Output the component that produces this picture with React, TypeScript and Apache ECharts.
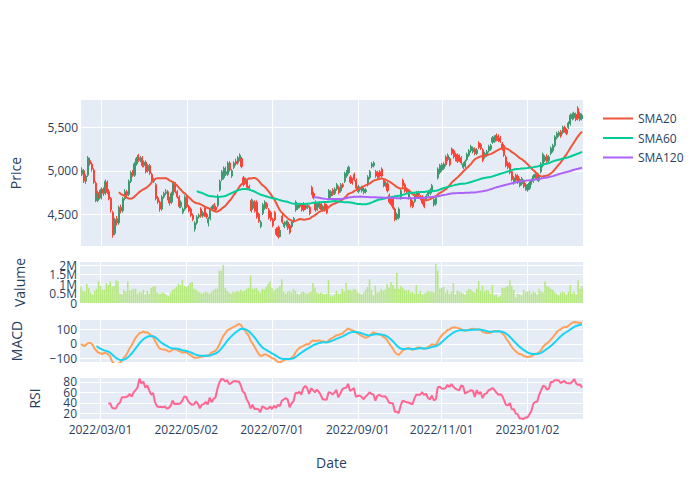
import React, { useEffect, useRef } from "react";
import * as echarts from "echarts";

// ---------- data ----------
const START_DATE = "2022-02-15"; // first trading day (weekends skipped)

const OPEN = [
  4960,5000,4880,4950,5120,5080,5010,4860,4660,4750,
  4690,4790,4740,4870,4760,4680,4520,4280,4450,4400,
  4580,4540,4680,4760,4730,4880,4980,4950,5080,5180,
  5120,5150,5060,5100,5000,5060,4960,4880,4840,4690,
  4640,4560,4700,4740,4760,4680,4640,4740,4850,4760,
  4700,4590,4520,4560,4690,4590,4560,4490,4330,4400,
  4470,4560,4480,4580,4500,4400,4450,4560,4610,4580,
  4600,4780,4900,4920,4960,4960,5090,4940,5040,5110,
  5090,5130,5140,4920,4870,4890,4820,4660,4570,4640,
  4640,4500,4360,4510,4570,4620,4550,4520,4440,4520,
  4330,4350,4260,4480,4360,4380,4410,4370,4360,4420,
  4550,4570,4610,4610,4620,4570,4600,4580,4810,4740,
  4640,4560,4580,4620,4560,4620,4600,4680,4710,4780,
  4740,4790,4810,4770,4840,4880,4940,4980,4930,4900,
  4960,4890,4760,4780,4770,4750,4760,4840,4920,5050,
  5060,4990,4980,4990,5020,4890,4830,4850,4720,4690,
  4680,4560,4450,4460,4690,4890,4840,4790,4690,4680,
  4640,4650,4720,4750,4700,4700,4660,4670,4720,4740,
  4760,4610,4620,4920,4980,5010,5030,5160,5130,5140,
  5250,5230,5190,5180,5170,5150,5040,5050,5130,5180,
  5230,5220,5250,5200,5320,5300,5240,5160,5180,5230,
  5250,5330,5340,5410,5400,5380,5310,5290,5160,5090,
  5080,4990,4860,4950,4940,4830,4850,4880,4790,4780,
  4800,4860,4880,4920,4960,4890,4990,5060,5120,5170,
  5120,5200,5230,5290,5380,5410,5450,5440,5500,5470,
  5500,5540,5600,5610,5650,5720,5590,5600,
];

const HIGH = [
  5040,5020,4960,5170,5150,5100,5030,4880,4770,4780,
  4810,4810,4900,4890,4790,4700,4540,4460,4480,4600,
  4610,4700,4790,4780,4900,5000,5010,5100,5160,5195,
  5170,5170,5120,5120,5080,5080,4980,4920,4860,4710,
  4660,4720,4760,4790,4780,4700,4760,4880,4870,4780,
  4720,4660,4580,4720,4710,4610,4580,4510,4420,4490,
  4510,4580,4540,4600,4520,4470,4580,4610,4630,4600,
  4730,4900,5010,5050,5050,5110,5110,5020,5110,5140,
  5170,5200,5160,4940,4920,4910,4840,4680,4670,4660,
  4660,4520,4430,4630,4660,4640,4570,4540,4460,4540,
  4350,4370,4320,4500,4420,4430,4430,4390,4440,4470,
  4660,4630,4630,4630,4640,4620,4620,4600,4830,4760,
  4660,4640,4650,4640,4610,4640,4620,4790,4780,4800,
  4810,4860,4830,4860,4860,4990,5010,5060,4950,4920,
  4980,4910,4840,4820,4830,4810,4800,4950,5010,5100,
  5110,5010,5000,5010,5040,4910,4880,4870,4740,4710,
  4700,4580,4520,4580,4790,4910,4860,4810,4770,4700,
  4660,4750,4770,4770,4720,4720,4680,4730,4780,4800,
  4850,4690,4710,5040,5080,5090,5100,5180,5200,5160,
  5270,5250,5210,5200,5190,5170,5100,5130,5210,5250,
  5300,5280,5270,5260,5340,5320,5260,5220,5240,5300,
  5310,5400,5410,5430,5420,5400,5330,5310,5180,5110,
  5100,5010,4940,4970,4960,4920,4930,4900,4860,4850,
  4880,4910,4960,4980,4980,4970,5100,5210,5180,5190,
  5180,5280,5310,5410,5450,5460,5470,5520,5520,5490,
  5570,5660,5670,5680,5670,5745,5680,5660,
];

const LOW = [
  4940,4860,4850,4930,5060,4990,4850,4640,4640,4670,
  4670,4710,4720,4730,4660,4520,4230,4260,4370,4380,
  4510,4520,4660,4700,4710,4860,4930,4930,5060,5100,
  5100,5040,5040,4970,4980,4950,4860,4860,4660,4620,
  4530,4540,4680,4720,4660,4600,4620,4720,4740,4680,
  4570,4570,4500,4540,4570,4520,4470,4420,4300,4380,
  4450,4460,4460,4470,4450,4360,4430,4540,4540,4530,
  4580,4760,4880,4900,4940,4940,4990,4920,5020,5060,
  5070,5110,5030,4820,4850,4790,4780,4520,4550,4520,
  4450,4400,4340,4490,4550,4560,4440,4420,4350,4420,
  4250,4220,4240,4390,4340,4360,4320,4270,4340,4400,
  4530,4550,4570,4530,4530,4550,4560,4490,4720,4670,
  4530,4540,4560,4530,4540,4530,4500,4660,4690,4710,
  4720,4770,4730,4750,4800,4860,4920,4960,4850,4840,
  4880,4780,4740,4760,4750,4730,4740,4820,4900,5030,
  5040,4920,4900,4920,4920,4810,4810,4750,4620,4590,
  4550,4420,4430,4440,4670,4810,4750,4740,4670,4580,
  4570,4630,4700,4700,4660,4610,4570,4650,4700,4720,
  4740,4590,4600,4900,4960,4990,5010,5050,5110,5050,
  5180,5140,5110,5090,5100,5070,5020,5030,5110,5160,
  5210,5200,5180,5180,5250,5240,5100,5140,5160,5210,
  5230,5310,5320,5340,5330,5320,5230,5160,5040,5020,
  4960,4880,4840,4870,4850,4810,4830,4800,4770,4760,
  4780,4840,4860,4900,4880,4870,4970,5040,5100,5090,
  5100,5180,5210,5270,5360,5390,5380,5420,5440,5410,
  5480,5520,5580,5590,5570,5580,5570,5580,
];

const CLOSE = [
  5010,4880,4940,5150,5080,5020,4870,4660,4740,4690,
  4790,4740,4880,4750,4680,4550,4260,4440,4400,4580,
  4540,4680,4760,4720,4880,4980,4950,5080,5140,5120,
  5150,5060,5100,4990,5060,4970,4880,4900,4680,4640,
  4560,4700,4740,4760,4680,4630,4740,4860,4760,4700,
  4590,4640,4560,4700,4590,4540,4490,4440,4400,4470,
  4490,4480,4520,4490,4470,4450,4560,4590,4560,4550,
  4710,4880,4990,5030,4990,5090,5010,5000,5090,5080,
  5150,5180,5050,4840,4900,4810,4800,4540,4650,4540,
  4470,4420,4410,4610,4640,4580,4460,4440,4370,4440,
  4270,4240,4300,4410,4400,4410,4340,4290,4420,4450,
  4640,4610,4590,4550,4550,4600,4580,4510,4740,4690,
  4550,4620,4630,4550,4590,4550,4520,4770,4760,4730,
  4790,4840,4750,4840,4820,4970,4990,5040,4870,4860,
  4900,4800,4820,4800,4810,4790,4780,4930,4990,5080,
  5090,4940,4920,4940,4940,4830,4860,4770,4640,4610,
  4570,4440,4500,4560,4770,4830,4770,4760,4750,4600,
  4590,4730,4750,4720,4680,4630,4590,4710,4760,4780,
  4830,4670,4690,5020,5060,5070,5080,5070,5180,5070,
  5200,5160,5130,5110,5120,5090,5080,5110,5190,5230,
  5280,5260,5200,5240,5270,5260,5120,5200,5220,5280,
  5290,5380,5390,5360,5350,5340,5250,5180,5060,5040,
  4980,4900,4920,4890,4870,4900,4910,4820,4840,4830,
  4860,4890,4940,4960,4900,4950,5080,5190,5160,5110,
  5160,5260,5290,5390,5430,5440,5400,5500,5460,5430,
  5550,5640,5650,5660,5590,5600,5660,5640,
];

// volume in millions
const VOLUME_M = [
  0.85,0.65,0.6,1.0,0.8,0.55,0.45,0.65,0.75,1.15,
  0.9,0.7,0.7,1.05,0.95,1.15,0.85,0.9,1.2,1.15,
  0.5,0.45,0.7,0.6,1.15,0.65,0.7,0.75,0.75,0.5,
  0.6,0.55,0.7,0.45,0.65,0.5,0.8,0.85,0.9,0.55,
  0.5,0.5,0.55,0.5,0.4,0.35,0.55,0.7,0.75,0.85,
  1.0,0.95,1.2,0.9,0.85,0.9,1.05,1.1,0.75,0.7,
  0.6,0.55,0.5,0.55,0.6,0.55,0.5,0.6,0.7,0.75,
  0.75,1.7,1.7,2.0,0.8,0.65,0.55,0.5,0.6,0.55,
  0.65,0.6,0.7,0.6,0.65,0.75,0.8,1.45,0.75,0.75,
  0.8,0.65,0.55,0.75,0.7,0.85,1.0,1.15,0.8,0.65,
  0.75,0.8,0.9,1.25,0.6,0.5,0.6,0.65,0.55,0.75,
  0.65,0.5,0.45,0.55,0.6,0.55,0.5,0.55,0.6,1.05,
  0.8,0.55,0.5,0.55,0.5,0.45,0.5,1.2,0.4,0.35,
  0.45,0.65,0.5,0.5,0.75,0.6,1.05,0.7,0.7,0.65,
  0.75,0.7,0.55,0.5,0.45,0.55,0.7,0.85,1.25,0.7,
  0.4,0.9,0.55,0.6,0.75,0.65,0.7,1.0,0.8,1.1,
  0.95,0.75,1.6,0.75,0.9,0.8,0.7,0.65,0.7,0.55,
  0.6,0.5,0.95,0.5,0.65,0.45,0.5,0.55,0.65,0.6,
  0.6,0.55,2.05,1.7,0.75,0.8,0.85,0.55,0.7,0.5,
  0.6,1.05,0.45,0.65,0.6,0.55,0.5,0.45,0.65,0.75,
  0.7,0.6,0.55,0.75,1.15,0.65,0.9,0.6,0.7,0.65,
  0.5,0.95,0.4,0.45,0.3,0.35,0.8,0.8,0.85,0.9,
  1.2,0.9,0.7,0.3,0.5,0.45,0.4,0.7,0.6,0.6,
  0.65,0.5,0.6,0.55,0.45,0.75,0.6,0.55,1.15,0.9,
  0.85,0.75,0.7,0.55,0.5,0.4,0.55,0.6,0.55,0.45,
  0.6,0.95,0.5,0.6,0.45,1.2,0.75,0.9,
];

const X_TICK_LABELS = ["2022/03/01", "2022/05/02", "2022/07/01", "2022/09/01", "2022/11/01", "2023/01/02"];
const SMA_WINDOWS = [20, 60, 120];
const SMA_NAMES = ["SMA20", "SMA60", "SMA120"];
const VOLUME_TICKS_A = [0, 1000000, 2000000];     // labels on the first volume axis
const VOLUME_TICKS_B = [500000, 1500000];         // labels on the companion axis

// ---------- helpers (indicators derived from CLOSE) ----------
function businessDays(start: string, n: number): string[] {
  const out: string[] = [];
  const d = new Date(start + "T00:00:00Z");
  while (out.length < n) {
    const wd = d.getUTCDay();
    if (wd !== 0 && wd !== 6) {
      const y = d.getUTCFullYear();
      const m = String(d.getUTCMonth() + 1).padStart(2, "0");
      const dd = String(d.getUTCDate()).padStart(2, "0");
      out.push(`${y}/${m}/${dd}`);
    }
    d.setUTCDate(d.getUTCDate() + 1);
  }
  return out;
}

function sma(arr: number[], w: number): (number | null)[] {
  const out: (number | null)[] = [];
  let s = 0;
  for (let i = 0; i < arr.length; i++) {
    s += arr[i];
    if (i >= w) s -= arr[i - w];
    out.push(i >= w - 1 ? s / w : null);
  }
  return out;
}

function ema(arr: number[], span: number): number[] {
  const a = 2 / (span + 1);
  const out: number[] = [];
  for (let i = 0; i < arr.length; i++) {
    out.push(i === 0 ? arr[0] : a * arr[i] + (1 - a) * out[i - 1]);
  }
  return out;
}

function rsi(arr: number[], w: number): (number | null)[] {
  const out: (number | null)[] = [];
  for (let i = 0; i < arr.length; i++) {
    if (i < w) { out.push(null); continue; }
    let g = 0, l = 0;
    for (let j = i - w + 1; j <= i; j++) {
      const d = arr[j] - arr[j - 1];
      if (d > 0) g += d; else l -= d;
    }
    out.push(l === 0 ? 100 : 100 - 100 / (1 + g / l));
  }
  return out;
}

const FONT = '"Open Sans", verdana, arial, sans-serif';
const TEXT = "#2a3f5f";
const BG = "#E5ECF6";

const volLabel = (v: number) => (v === 0 ? "0" : v / 1e6 + "M");

export default function App() {
  const ref = useRef<HTMLDivElement>(null);

  useEffect(() => {
    document.body.style.margin = "0";
    if (!ref.current) return;
    const chart = echarts.init(ref.current, undefined, { renderer: "svg" });

    const dates = businessDays(START_DATE, CLOSE.length);
    const isTick = (_i: number, v: string) => X_TICK_LABELS.includes(v);
    const ema12 = ema(CLOSE, 12);
    const ema26 = ema(CLOSE, 26);
    const macd = CLOSE.map((_, i) => ema12[i] - ema26[i]);
    const sig = ema(macd, 9).map((v, i) => (i >= 8 ? v : null));
    const rsiVals = rsi(CLOSE, 14);

    const grids = [
      { top: 100, height: 146 },
      { top: 262, height: 41 },
      { top: 320, height: 42 },
      { top: 378, height: 41 },
    ].map((g) => ({ ...g, left: 80, right: 117, show: true, backgroundColor: BG, borderWidth: 0 }));

    const xAxis = [0, 1, 2, 3].map((gi) => ({
      type: "category",
      gridIndex: gi,
      data: dates,
      boundaryGap: true,
      axisLine: { show: false },
      axisTick: { show: false, alignWithLabel: true },
      axisLabel: {
        show: gi === 3,
        interval: isTick,
        color: TEXT,
        fontSize: 12,
        fontFamily: FONT,
        margin: 4,
      },
      splitLine: { show: true, interval: isTick, alignWithLabel: true, lineStyle: { color: "#ffffff", width: 1 } },
      ...(gi === 3
        ? { name: "Date", nameLocation: "middle", nameGap: 36, nameTextStyle: { color: TEXT, fontSize: 14, fontFamily: FONT } }
        : {}),
    }));

    const yCommon = (gi: number, name: string, nameGap: number) => ({
      type: "value",
      gridIndex: gi,
      name,
      nameLocation: "middle",
      nameGap,
      nameTextStyle: { color: TEXT, fontSize: 14, fontFamily: FONT },
      axisLine: { show: false },
      axisTick: { show: false },
    });
    const labelStyle = { color: TEXT, fontSize: 12, fontFamily: FONT, margin: 3, hideOverlap: false };
    const split = { show: true, showMinLine: false, showMaxLine: false, lineStyle: { color: "#ffffff", width: 1 } };

    const yAxis = [
      {
        ...yCommon(0, "Price", 59),
        min: 4135, max: 5815, splitNumber: 3,
        axisLabel: { ...labelStyle, showMinLabel: false, showMaxLabel: false, formatter: (v: number) => v.toLocaleString("en-US") },
        splitLine: split,
      },
      {
        ...yCommon(1, "Valume", 54),
        min: 0, max: 2160000, interval: 500000,
        axisLabel: {
          ...labelStyle, showMinLabel: true, showMaxLabel: false,
          formatter: (v: number) => (VOLUME_TICKS_A.includes(v) ? volLabel(v) : ""),
        },
        splitLine: split,
      },
      {
        ...yCommon(2, "MACD", 57),
        min: -124, max: 165, splitNumber: 3,
        axisLabel: { ...labelStyle, showMinLabel: false, showMaxLabel: false, formatter: (v: number) => (v < 0 ? "\u2212" + Math.abs(v) : String(v)) },
        splitLine: split,
      },
      {
        ...yCommon(3, "RSI", 39),
        min: 9.2, max: 87.6, splitNumber: 4,
        axisLabel: { ...labelStyle, showMinLabel: false, showMaxLabel: false },
        splitLine: split,
      },
      {
        // companion axis on the volume grid carrying the half-million labels
        type: "value",
        gridIndex: 1,
        position: "left",
        min: 0, max: 2160000, interval: 500000,
        axisLine: { show: false },
        axisTick: { show: false },
        splitLine: { show: false },
        axisLabel: {
          ...labelStyle, showMinLabel: false, showMaxLabel: false,
          formatter: (v: number) => (VOLUME_TICKS_B.includes(v) ? volLabel(v) : ""),
        },
      },
    ];

    const smaColors = ["#EF553B", "#00CC96", "#AB63FA"];
    const smaSeries = SMA_WINDOWS.map((w, k) => ({
      type: "line",
      name: SMA_NAMES[k],
      xAxisIndex: 0,
      yAxisIndex: 0,
      data: sma(CLOSE, w),
      symbol: "none",
      showSymbol: false,
      lineStyle: { color: smaColors[k], width: 2 },
      itemStyle: { color: smaColors[k] },
    }));

    chart.setOption({
      animation: false,
      textStyle: { fontFamily: FONT },
      grid: grids,
      xAxis,
      yAxis,
      legend: {
        data: SMA_NAMES,
        orient: "vertical",
        left: 598,
        top: 106.5,
        icon: "rect",
        itemWidth: 30,
        itemHeight: 2,
        itemGap: 5.5,
        textStyle: { color: TEXT, fontSize: 12, fontFamily: FONT, lineHeight: 14 },
      },
      series: [
        {
          type: "candlestick",
          name: "Price",
          xAxisIndex: 0,
          yAxisIndex: 0,
          barWidth: 1.6,
          data: OPEN.map((o, i) => [o, CLOSE[i], LOW[i], HIGH[i]]),
          itemStyle: {
            color: "#3D9970",
            color0: "#FF4136",
            borderColor: "#3D9970",
            borderColor0: "#FF4136",
            borderWidth: 1,
          },
        },
        ...smaSeries,
        {
          type: "bar",
          name: "Volume",
          xAxisIndex: 1,
          yAxisIndex: 1,
          data: VOLUME_M.map((v) => v * 1e6),
          barCategoryGap: "20%",
          itemStyle: { color: "#B6E880" },
        },
        {
          type: "line",
          name: "MACD",
          xAxisIndex: 2,
          yAxisIndex: 2,
          data: macd,
          symbol: "none",
          lineStyle: { color: "#FFA15A", width: 2 },
        },
        {
          type: "line",
          name: "Signal",
          xAxisIndex: 2,
          yAxisIndex: 2,
          data: sig,
          symbol: "none",
          lineStyle: { color: "#19D3F3", width: 2 },
        },
        {
          type: "line",
          name: "RSI",
          xAxisIndex: 3,
          yAxisIndex: 3,
          data: rsiVals,
          symbol: "none",
          lineStyle: { color: "#FF6692", width: 2 },
        },
      ],
    });

    return () => chart.dispose();
  }, []);

  return <div ref={ref} style={{ width: 700, height: 500 }} />;
}
